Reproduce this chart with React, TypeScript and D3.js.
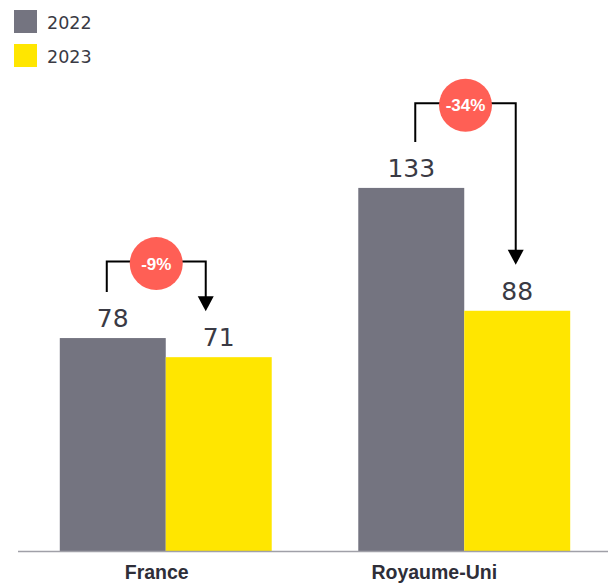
import React from "react";
import * as d3 from "d3";

const countries = ["France", "Royaume-Uni"];
const years = ["2022", "2023"];
const values2022 = [78, 133];
const values2023 = [71, 88];
const changeLabels = ["-9%", "-34%"];
// bracket level (in value units) for each annotation
const bracketLevels = [106, 164];

const W = 608;
const H = 584;
const colors: Record<string, string> = { "2022": "#747480", "2023": "#FFE600" };
const textColor = "#2e2e38";
const circleColor = "#FF5F55";
const labelShift = [-9, -30];

export default function App() {
  const x0 = d3
    .scaleBand<string>()
    .domain(countries)
    .range([18, 612])
    .paddingInner(0.29)
    .paddingOuter(0.14);
  const x1 = d3.scaleBand<string>().domain(years).range([0, x0.bandwidth()]).padding(0);
  const y = d3.scaleLinear().domain([0, 200]).range([551, 5]);

  const series: Record<string, number[]> = { "2022": values2022, "2023": values2023 };
  const labelGap = 11;
  const labelSize = 25;
  const labelCap = 18;

  return (
    <svg
      width={W}
      height={H}
      style={{ position: "absolute", left: 0, top: 0, fontFamily: "'DejaVu Sans', sans-serif" }}
    >
      {/* legend */}
      {years.map((yr, i) => (
        <g key={yr} transform={`translate(14, ${10 + i * 34})`}>
          <rect width={23} height={23} fill={colors[yr]} />
          <text x={33} y={19} fontSize={17.5} fill="#3a3a44">
            {yr}
          </text>
        </g>
      ))}

      {/* bars */}
      {countries.map((c, ci) => (
        <g key={c} transform={`translate(${x0(c)},0)`}>
          {years.map((yr) => {
            const v = series[yr][ci];
            return (
              <g key={yr}>
                <rect
                  x={x1(yr)}
                  y={y(v)}
                  width={x1.bandwidth()}
                  height={y(0) - y(v)}
                  fill={colors[yr]}
                />
                <text
                  x={(x1(yr) as number) + x1.bandwidth() / 2}
                  y={y(v) - labelGap}
                  textAnchor="middle"
                  fontSize={labelSize}
                  fill="#3a3a44"
                >
                  {v}
                </text>
              </g>
            );
          })}
        </g>
      ))}

      {/* axis line */}
      <line x1={18} x2={W} y1={y(0) + 0.5} y2={y(0) + 0.5} stroke="#a0a0a8" strokeWidth={1.5} />

      {/* category labels */}
      {countries.map((c, ci) => (
        <text
          key={c}
          x={(x0(c) as number) + x0.bandwidth() / 2 + labelShift[ci]}
          y={579}
          textAnchor="middle"
          fontSize={19.5}
          fontWeight={700}
          fontFamily="'Liberation Sans', Arial, sans-serif"
          fill={textColor}
        >
          {c}
        </text>
      ))}

      {/* annotations */}
      {countries.map((c, ci) => {
        const bx = x0(c) as number;
        const xa = bx + (x1("2022") as number) + x1.bandwidth() / 2 + (ci === 0 ? -6 : 4);
        const xb = bx + (x1("2023") as number) + x1.bandwidth() / 2 + (ci === 0 ? -13 : -1.5);
        const yTop = y(bracketLevels[ci]);
        const yA = y(values2022[ci]) - labelGap - labelCap - 17;
        const yB = y(values2023[ci]) - labelGap - labelCap - 17;
        const ah = 15;
        const aw = 8;
        const cx = (xa + xb) / 2;
        return (
          <g key={c}>
            <path
              d={`M${xa},${yA} V${yTop} H${xb} V${yB - ah + 1}`}
              fill="none"
              stroke="#000"
              strokeWidth={2}
            />
            <path d={`M${xb - aw},${yB - ah} L${xb + aw},${yB - ah} L${xb},${yB} Z`} fill="#000" />
            <circle cx={cx} cy={yTop + 2} r={26.5} fill={circleColor} />
            <text
              x={cx}
              y={yTop + 2}
              dy="0.36em"
              textAnchor="middle"
              fontSize={17}
              fontWeight={700}
              fontFamily="'Liberation Sans', Arial, sans-serif"
              fill="#fff"
            >
              {changeLabels[ci]}
            </text>
          </g>
        );
      })}
    </svg>
  );
}
